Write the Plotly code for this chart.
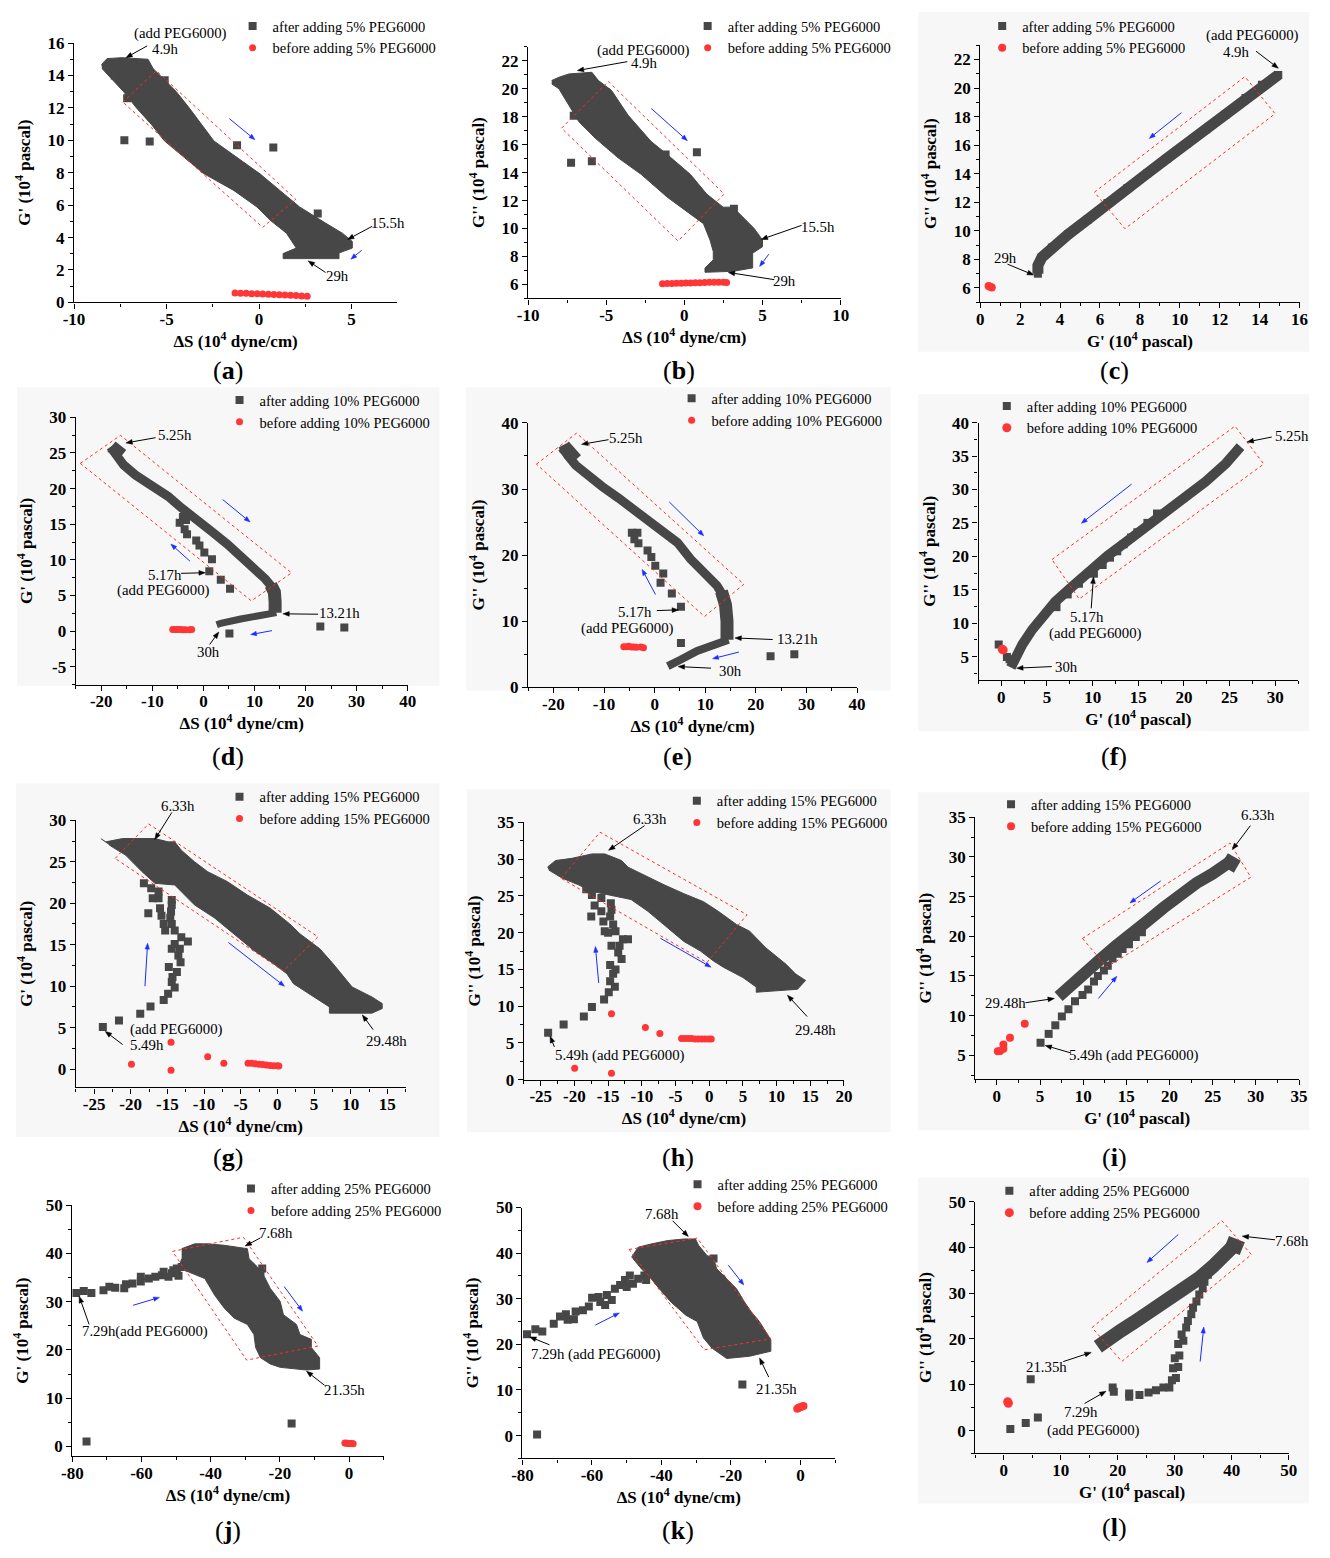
import math
import numpy as np
import plotly.graph_objects as go

W, H = 1330, 1558
FONT = "Liberation Serif"
DARK = "#474747"
RED = "#ff3636"
BLUE = "#1a2cff"
BG = "#f7f7f7"

DS = "ΔS (10<sup>4</sup> dyne/cm)"
G1 = "G' (10<sup>4</sup> pascal)"
G2 = "G'' (10<sup>4</sup> pascal)"

# ---------------- panel (a): G' vs dS, 5% ----------------
a_band_x = [-8.52, -8.22, -7.42, -6.0, -5.73, -5.28, -4.48, -3.77, -2.44, -1.19, 0.05, 1.12, 2.19, 3.61, 4.5, 5.04, 5.04,
            4.32, 4.32, 1.30, 1.30, 2.01, 1.48, 0.59, -0.12, -1.37, -2.97, -4.04, -5.11, -5.82, -6.62, -7.33, -8.13, -8.49]
a_band_y = [14.67, 15.04, 15.10, 15.0, 14.43, 13.92, 13.01, 11.99, 9.96, 8.94, 7.93, 6.91, 5.89, 4.88, 4.27, 3.76, 3.35,
            3.05, 2.70, 2.70, 3.01, 3.35, 4.27, 5.08, 5.89, 6.91, 7.93, 8.94, 9.96, 10.98, 11.99, 13.01, 14.02, 14.43]
a_pts_x = [-7.28, -5.91, -1.19, 0.77, 3.17, -5.1, -7.8, -7.13]
a_pts_y = [10.0, 9.92, 9.7, 9.55, 5.49, 13.7, 14.0, 12.6]
a_red_x = [-1.3, -1.0, -0.7, -0.4, -0.1, 0.2, 0.5, 0.8, 1.1, 1.4, 1.7, 2.0, 2.3, 2.6]
a_red_y = [0.58, 0.57, 0.56, 0.54, 0.53, 0.52, 0.50, 0.49, 0.47, 0.46, 0.44, 0.42, 0.40, 0.38]
a_box_x = [-7.37, -5.55, 1.98, 0.20]
a_box_y = [12.36, 14.29, 6.36, 4.63]

# ---------------- panel (b): G'' vs dS, 5% ----------------
b_band_x = [-8.49, -8.03, -7.39, -5.92, -5.5, -4.66, -3.61, -2.14, -1.09, 0.38, 1.43, 2.48, 3.11, 3.74, 4.47, 5.0, 5.0,
            4.37, 4.37, 3.11, 1.32, 1.32, 1.85, 1.85, 1.64, 1.22, 0.38, -1.09, -2.77, -4.24, -5.71, -6.76, -7.39, -8.03, -8.49]
b_band_y = [20.59, 20.82, 21.06, 21.18, 20.59, 19.88, 18.12, 16.24, 15.29, 13.88, 12.47, 11.53, 11.53, 10.82, 10.0, 9.18, 8.7,
            8.24, 7.18, 6.94, 6.87, 7.18, 7.76, 8.35, 9.18, 10.35, 11.06, 12.24, 13.88, 15.06, 16.47, 17.65, 18.82, 20.0, 20.35]
b_pts_x = [-7.25, -5.92, 0.8, -1.2, 3.17, -5.04, -7.08, -5.5]
b_pts_y = [14.71, 14.82, 15.46, 15.29, 11.41, 19.76, 18.07, 19.9]
b_red_x = [-1.4, -1.1, -0.8, -0.5, -0.2, 0.1, 0.4, 0.7, 1.0, 1.3, 1.6, 1.9, 2.2, 2.5, 2.7]
b_red_y = [6.05, 6.06, 6.07, 6.08, 6.09, 6.1, 6.11, 6.12, 6.13, 6.14, 6.15, 6.16, 6.16, 6.15, 6.14]
b_box_x = [-7.86, -4.87, 2.55, -0.40]
b_box_y = [17.18, 20.52, 12.47, 9.11]

# ---------------- panel (c): G'' vs G', 5% ----------------
c_line_x = [2.89, 2.89, 3.09, 3.59, 4.41, 5.39, 6.38, 7.37, 8.36, 9.34, 10.33, 11.32, 12.3, 13.29, 14.11, 14.93]
c_line_y = [6.99, 7.57, 8.14, 8.83, 9.75, 10.79, 11.94, 12.98, 14.01, 15.05, 16.08, 17.12, 18.15, 19.31, 20.23, 20.92]
c_red_x = [0.42, 0.5, 0.58]
c_red_y = [6.12, 6.08, 6.03]
c_box_x = [5.72, 13.26, 14.77, 7.25]
c_box_y = [12.7, 20.8, 18.2, 10.14]

# ---------------- panel (d): G' vs dS, 10% ----------------
d_line_x = [-18.2, -17.2, -15.6, -13.3, -10.1, -6.9, -4.3, -1.7, 1.5, 4.7, 7.3, 9.9, 12.1, 13.7]
d_line_y = [25.84, 24.69, 23.3, 21.9, 20.5, 18.9, 17.3, 15.7, 14.05, 12.2, 10.6, 8.97, 7.35, 5.96]
d_top_x = [-18.0, -15.9]
d_top_y = [25.9, 24.7]
d_vert_x = [13.2, 13.9, 14.05, 14.05]
d_vert_y = [6.5, 5.5, 4.11, 2.6]
d_low_x = [14.3, 11.1, 7.3, 3.4, 2.6]
d_low_y = [2.6, 2.27, 1.71, 1.11, 0.9]
d_pts_x = [-4.64, -3.67, -3.2, -1.4, -0.77, 0.19, 1.68, 1.16, 3.41, 5.22, 22.9, 27.6, 5.1, -4.0, -3.4]
d_pts_y = [15.2, 14.3, 13.6, 12.7, 12.0, 11.05, 10.1, 8.41, 7.2, 5.96, 0.65, 0.5, -0.32, 16.0, 15.6]
d_red_x = [-6.0, -5.5, -5.0, -4.5, -4.0, -3.5, -2.7, -2.3]
d_red_y = [0.25, 0.25, 0.22, 0.22, 0.2, 0.2, 0.2, 0.22]
d_box_x = [-24.1, -16.24, 17.27, 9.41]
d_box_y = [23.53, 27.46, 8.18, 4.25]

# ---------------- panel (e): G'' vs dS, 10% ----------------
e_line_x = [-18.2, -17.2, -15.6, -13.0, -10.4, -7.1, -4.5, -1.95, 1.3, 4.5, 7.1, 9.7, 12.3, 13.6]
e_line_y = [36.6, 35.1, 33.6, 31.9, 30.4, 28.6, 27.1, 25.4, 23.7, 21.9, 19.4, 17.4, 15.4, 13.8]
e_top_x = [-18.0, -15.6]
e_top_y = [36.5, 34.4]
e_vert_x = [13.2, 14.0, 14.3, 14.3]
e_vert_y = [14.5, 12.5, 10.0, 7.2]
e_low_x = [14.6, 11.7, 8.4, 5.2, 3.2, 2.6]
e_low_y = [7.2, 6.5, 5.5, 4.2, 3.5, 3.2]
e_pts_x = [-4.5, -4.0, -3.2, -1.4, -0.65, 0.13, 1.7, 1.17, 3.4, 5.2, 5.2, 22.9, 27.6, -3.4]
e_pts_y = [23.4, 22.4, 21.8, 20.7, 19.7, 18.4, 17.2, 15.8, 14.2, 12.2, 6.7, 4.7, 5.0, 23.4]
e_red_x = [-6.1, -5.6, -5.1, -4.6, -4.1, -3.6, -2.7, -2.2]
e_red_y = [6.15, 6.15, 6.2, 6.1, 6.1, 6.05, 6.1, 6.0]
e_box_x = [-23.35, -15.43, 17.64, 9.86]
e_box_y = [33.76, 38.45, 15.59, 10.71]

# ---------------- panel (f): G'' vs G', 10% ----------------
f_line_x = [1.04, 1.4, 2.3, 3.38, 4.46, 5.9, 7.7, 9.5, 11.65, 13.8, 16.0, 18.1, 20.3, 22.4, 24.6, 26.2]
f_line_y = [3.38, 4.6, 6.8, 9.04, 11.0, 13.2, 15.4, 17.65, 20.1, 22.3, 24.5, 26.8, 29.0, 31.2, 33.9, 36.4]
f_pts_x = [10.14, 11.1, 11.9, 12.7, 13.4, 14.2, 14.9, 16.0, 17.05, 8.5, 7.27, 6.04, -0.29, 0.61, 0.9]
f_pts_y = [17.4, 18.7, 19.8, 20.75, 21.8, 22.8, 23.6, 25.0, 26.4, 15.9, 14.3, 12.4, 6.8, 4.95, 4.6]
f_red_x = [0.1, 0.2]
f_red_y = [6.1, 6.0]
f_box_x = [5.54, 25.6, 28.74, 8.53]
f_box_y = [19.52, 39.47, 33.8, 13.62]

# ---------------- panel (g): G' vs dS, 15% ----------------
g_band_x = [-24.06, -23.4, -21.1, -18.45, -16.7, -14.9, -14.0, -13.1, -11.3, -9.5, -6.8, -4.1, -0.96, 1.7, 3.1, 5.8, 7.6,
            10.2, 12.9, 14.3, 14.3, 12.9, 7.1, 7.1, 4.4, 2.2, 1.3, -0.5, -3.2, -5.9, -8.6, -11.3, -14.0, -16.7, -18.45,
            -20.7, -22.9]
g_band_y = [27.78, 27.4, 27.8, 27.8, 27.8, 27.4, 27.4, 26.4, 25.0, 23.8, 22.6, 21.0, 19.4, 17.5, 16.3, 14.5, 12.7,
            9.9, 8.7, 7.9, 7.3, 6.75, 6.75, 7.5, 9.1, 10.3, 11.5, 12.7, 14.3, 16.3, 18.25, 19.8, 22.2, 22.4, 23.8,
            25.8, 27.0]
g_pts_x = [-23.8, -21.6, -18.7, -17.3, -15.5, -14.9, -14.0, -14.4, -14.3, -13.7, -14.8, -13.2, -13.5, -13.3, -14.4,
           -12.2, -13.1, -14.0, -14.0, -14.4, -14.6, -14.5, -14.4, -14.4, -15.3, -15.5, -15.8, -16.0, -16.2, -16.2,
           -17.6, -17.0, -17.2, -18.2]
g_pts_y = [5.08, 5.87, 6.67, 7.54, 8.33, 9.1, 9.84, 10.5, 11.1, 11.7, 12.3, 12.9, 13.7, 14.5, 14.5, 15.4, 15.9, 15.1,
           16.7, 17.5, 18.25, 19.0, 19.8, 20.4, 16.7, 17.5, 18.5, 19.4, 20.6, 21.4, 18.8, 20.6, 21.8, 22.4]
g_red_x = [-19.9, -14.5, -14.5, -9.5, -7.3, -4.0, -3.5, -3.0, -2.5, -2.0, -1.5, -1.0, -0.5, 0.0, 0.2]
g_red_y = [0.6, 3.25, -0.12, 1.5, 0.71, 0.72, 0.7, 0.65, 0.6, 0.55, 0.5, 0.45, 0.42, 0.4, 0.38]
g_box_x = [-22.13, -17.56, 5.54, 0.83]
g_box_y = [25.4, 29.56, 15.95, 11.83]

# ---------------- panel (h): G'' vs dS, 15% ----------------
h_band_x = [-24.0, -22.8, -20.35, -17.4, -15.5, -14.0, -13.0, -12.05, -9.6, -6.7, -3.76, -0.83, 1.34, 4.05, 6.0, 8.44,
            11.4, 12.8, 14.3, 13.1, 6.98, 6.98, 5.0, 2.1, 0.63, -1.3, -3.76, -6.7, -9.1, -11.6, -14.5, -17.4, -19.4,
            -21.8, -23.8]
h_band_y = [28.9, 29.8, 30.1, 30.7, 30.7, 30.1, 29.8, 28.9, 27.8, 26.5, 25.3, 24.2, 22.9, 21.1, 20.2, 17.9,
            15.7, 14.4, 13.5, 12.3, 11.9, 12.6, 13.9, 15.3, 16.15, 17.5, 18.8, 21.1, 22.9, 24.5, 25.1, 25.6, 26.5,
            27.4, 28.5]
h_pts_x = [-23.9, -21.6, -18.6, -17.4, -15.6, -14.9, -14.7, -14.0, -14.25, -13.9, -14.7, -13.0, -13.5, -13.3, -12.8,
           -12.05, -14.5, -13.9, -15.0, -14.25, -14.7, -14.5, -14.6, -15.5, -15.7, -16.0, -16.0, -17.5, -17.0, -17.4,
           -18.25]
h_pts_y = [6.4, 7.5, 8.6, 9.9, 10.9, 11.9, 13.4, 12.65, 14.4, 15.0, 15.6, 16.4, 17.3, 18.2, 19.1, 19.1, 18.2, 20.2,
           20.0, 21.1, 22.2, 23.1, 24.0, 20.2, 21.5, 22.9, 24.7, 22.2, 23.7, 25.1, 25.9]
h_red_x = [-19.96, -14.5, -14.5, -9.47, -7.32, -4.1, -3.6, -3.1, -2.6, -2.1, -1.6, -1.1, -0.6, -0.1, 0.3]
h_red_y = [1.57, 0.9, 8.97, 7.09, 6.28, 5.6, 5.6, 5.6, 5.6, 5.55, 5.55, 5.55, 5.55, 5.55, 5.55]
h_box_x = [-21.96, -16.2, 5.61, -0.34]
h_box_y = [27.37, 33.65, 22.43, 15.93]

# ---------------- panel (i): G'' vs G', 15% ----------------
i_line_x = [7.15, 7.9, 9.24, 10.6, 12.1, 13.8, 15.5, 17.4, 19.3, 21.2, 23.1, 25.0, 26.5, 27.4]
i_line_y = [12.4, 13.2, 14.5, 15.7, 17.2, 18.8, 20.5, 21.9, 23.6, 25.2, 26.7, 27.9, 29.2, 29.7]
i_top_x = [26.7, 27.5]
i_top_y = [28.5, 30.0]
i_pts_x = [5.06, 6.0, 6.77, 7.53, 8.29, 9.05, 9.92, 10.57, 11.25, 11.7, 12.4, 12.85, 13.4, 14.0, 14.56, 15.3, 16.1, 16.8]
i_pts_y = [6.58, 7.7, 8.78, 9.9, 10.8, 11.8, 12.6, 13.3, 14.3, 15.0, 15.7, 16.3, 17.2, 17.8, 18.4, 19.0, 19.9, 20.5]
i_red_x = [0.11, 0.38, 0.76, 0.76, 1.52, 3.23]
i_red_y = [5.5, 5.54, 5.83, 6.37, 7.2, 8.98]
i_box_x = [9.92, 27.0, 29.42, 12.73]
i_box_y = [19.73, 31.76, 27.45, 16.12]

# ---------------- panel (j): G' vs dS, 25% ----------------
j_band_x = [-48.4, -44.6, -40.8, -36.1, -29.4, -28.9, -27.0, -24.7, -22.8, -19.9, -18.97, -15.2, -14.2, -10.9, -10.9,
            -8.5, -8.5, -12.3, -19.9, -22.8, -25.6, -27.0, -27.5, -29.4, -33.2, -36.1, -38.9, -41.7, -46.5, -49.3, -48.4]
j_band_y = [41.0, 42.0, 42.0, 41.7, 41.0, 38.9, 37.6, 35.5, 32.8, 30.05, 27.3, 25.3, 23.2, 22.2, 20.5,
            18.4, 16.05, 15.85, 16.4, 17.1, 18.4, 20.5, 23.2, 25.3, 26.6, 28.7, 31.4, 34.8, 36.2, 36.9, 38.9]
j_pts_x = [-78.9, -76.7, -74.5, -71.0, -69.3, -67.6, -65.0, -64.5, -62.6, -60.2, -60.2, -57.9, -56.0, -54.1, -53.6,
           -51.2, -50.8, -49.3, -49.8, -52.2, -48.4, -75.9, -16.6, -25.1, -25.6]
j_pts_y = [31.8, 32.2, 31.8, 32.4, 33.1, 32.9, 32.8, 33.6, 33.8, 34.2, 35.2, 34.8, 35.2, 35.5, 36.2,
           35.9, 36.5, 35.4, 36.9, 35.2, 37.2, 1.02, 4.78, 36.9, 36.2]
j_red_x = [-1.2, -0.8, -0.4, 0.0, 0.4, 0.8, 1.2]
j_red_y = [0.7, 0.68, 0.66, 0.64, 0.62, 0.6, 0.58]
j_box_x = [-51.04, -30.55, -9.01, -29.6]
j_box_y = [40.44, 43.37, 20.83, 17.9]

# ---------------- panel (k): G'' vs dS, 25% ----------------
k_band_x = [-48.6, -46.7, -43.0, -38.2, -33.5, -30.2, -29.3, -26.9, -25.0, -24.1, -21.2, -18.4, -16.1, -14.2, -11.8,
            -9.9, -8.5, -8.5, -14.6, -21.2, -25.5, -27.9, -29.7, -33.0, -37.3, -40.6, -43.0, -45.8, -48.2]
k_band_y = [39.1, 41.3, 42.0, 42.75, 43.1, 43.1, 41.7, 39.5, 38.8, 36.6, 34.4, 32.2, 29.3, 27.2, 25.0,
            22.8, 21.0, 18.5, 17.4, 16.9, 19.2, 21.4, 25.0, 26.4, 29.3, 32.2, 34.4, 36.6, 38.8]
k_pts_x = [-78.7, -76.3, -74.3, -71.0, -69.2, -67.5, -67.0, -65.2, -64.7, -62.6, -60.9, -59.96, -58.1, -57.6, -56.2,
           -55.7, -54.3, -53.4, -51.9, -50.5, -49.1, -50.0, -48.2, -46.7, -44.9, -44.4, -25.0, -75.8, -16.7]
k_pts_y = [22.2, 23.3, 22.8, 24.5, 26.1, 26.6, 25.4, 25.5, 27.2, 27.5, 28.3, 30.2, 30.4, 29.3, 28.6,
           30.8, 29.7, 32.2, 33.0, 34.1, 35.1, 32.6, 33.3, 34.4, 35.1, 34.1, 38.8, 0.22, 11.2]
k_red_x = [-0.9, -0.5, 0.0, 0.4, 0.9]
k_red_y = [5.9, 6.1, 6.2, 6.4, 6.5]
k_box_x = [-49.3, -29.7, -8.5, -27.7]
k_box_y = [40.8, 43.3, 21.2, 18.8]

# ---------------- panel (l): G'' vs G', 25% ----------------
l_line_x = [16.5, 18.2, 20.5, 22.8, 25.1, 27.4, 29.7, 32.0, 34.3, 36.65, 38.95, 40.7]
l_line_y = [18.3, 20.0, 21.8, 23.6, 25.4, 27.2, 29.0, 31.1, 33.3, 35.8, 38.3, 40.8]
l_top_x = [40.0, 40.9]
l_top_y = [39.0, 41.8]
l_pts_x = [19.1, 19.3, 22.0, 22.0, 23.8, 25.4, 26.7, 28.0, 29.05, 29.5, 30.2, 29.7, 30.6, 30.0, 30.8, 30.6, 31.5, 31.2,
           32.0, 32.3, 32.9, 33.2, 33.8, 34.3, 34.9, 35.2, 35.8, 36.4, 1.15, 3.85, 5.98, 4.72]
l_pts_y = [9.4, 8.5, 8.1, 7.4, 7.76, 8.3, 8.8, 9.4, 9.4, 11.0, 11.5, 13.6, 13.9, 15.8, 16.4, 18.9, 19.6, 21.0,
           22.5, 23.9, 25.4, 26.8, 28.2, 29.7, 31.1, 32.5, 34.0, 35.4, 0.36, 1.65, 2.87, 11.2]
l_red_x = [0.69, 0.8]
l_red_y = [6.32, 5.96]
l_box_x = [15.48, 38.26, 43.44, 20.71]
l_box_y = [22.49, 45.83, 38.43, 15.09]

# ---------------- figure layout description ----------------
PANELS = [
    dict(k="a", pct="5", xt=DS, yt=G1, dom=(64, 392, 34.5, 297), xr=(-10, 7.46), yr=(0, 16), xd=(5, 2.5), yd=(2, 1),
         bands=[("poly", a_band_x, a_band_y, 0)], pts=(a_pts_x, a_pts_y), red=(a_red_x, a_red_y), rs=7,
         box=(a_box_x, a_box_y), leg=(245, 18), lab=(220, 366), bg=None,
         texts=[("(add PEG6000)", 171.7, 25), ("4.9h", 156, 40.7), ("15.5h", 382.7, 216.7), ("29h", 331, 270.7)],
         arrows=[(138.3, 37.3, 116.7, 49.3), (366.7, 220, 341.7, 233.3), (319.3, 266.7, 301.7, 255)],
         blue=[(221.7, 111, 247.7, 132.3), (356, 244.3, 345, 253.3)]),
    dict(k="b", pct="5", xt=DS, yt=G2, dom=(525, 842.3, 38.3, 293), xr=(-10, 10), yr=(5, 23), xd=(5, 2.5), yd=(2, 1),
         bands=[("poly", b_band_x, b_band_y, 0)], pts=(b_pts_x, b_pts_y), red=(b_red_x, b_red_y), rs=7,
         box=(b_box_x, b_box_y), leg=(707, 18), lab=(678, 366), bg=None,
         texts=[("(add PEG6000)", 642.3, 41.7), ("4.9h", 642.3, 55), ("15.5h", 819.3, 220.7), ("29h", 785, 275.3)],
         arrows=[(625.7, 53.3, 575, 62.3), (802.7, 219, 761.7, 233.3), (775, 274, 728.3, 266.7)],
         blue=[(650, 100.7, 686.7, 133.3), (769.3, 248.3, 760, 260.7)]),
    dict(k="c", pct="5", xt=G1, yt=G2, dom=(984, 1308.3, 36.7, 296.7), xr=(0, 16), yr=(5, 23),
         xd=(2, 1), yd=(2, 1),
         bands=[("line", c_line_x, c_line_y, 11)], pts=(c_line_x, c_line_y), red=(c_red_x, c_red_y), rs=8,
         box=(c_box_x, c_box_y), leg=(1006, 18), lab=(1120, 366), bg=(921, 3, 1318, 347),
         texts=[("(add PEG6000)", 1260, 26.7), ("4.9h", 1244, 43.3), ("29h", 1010, 251.7)],
         arrows=[(1264, 42.7, 1286.7, 60), (1011.7, 258.3, 1038.3, 269.3)],
         blue=[(1188.3, 105, 1155.7, 131)]),
    dict(k="d", pct="10", xt=DS, yt=G1, dom=(65.7, 402.7, 413.3, 684), xr=(-25, 40), yr=(-7.5, 30), xd=(10, 5),
         yd=(5, 2.5),
         bands=[("line", d_line_x, d_line_y, 9), ("line", d_top_x, d_top_y, 13), ("line", d_vert_x, d_vert_y, 13),
                ("line", d_low_x, d_low_y, 7)],
         pts=(d_pts_x, d_pts_y), red=(d_red_x, d_red_y), rs=7,
         box=(d_box_x, d_box_y), leg=(231.7, 396.7), lab=(220, 757), bg=(6, 383, 435, 685),
         texts=[("5.25h", 166, 431.7), ("5.17h", 156, 573.3), ("(add PEG6000)", 155, 588.3), ("13.21h", 333.3, 611),
                ("30h", 201, 650.7)],
         arrows=[(146.7, 434, 116.7, 439.3), (172.7, 571.3, 197.3, 570.7), (311.7, 612.7, 276, 612.3),
                 (201.7, 643.3, 211, 630.7)],
         blue=[(215, 496.7, 242.7, 519.3), (181.7, 559, 162.3, 541.7), (265, 629.3, 243.3, 633.3)]),
    dict(k="e", pct="10", xt=DS, yt=G2, dom=(525, 859, 419, 686.7), xr=(-25, 40), yr=(0, 40), xd=(10, 5), yd=(10, 5),
         bands=[("line", e_line_x, e_line_y, 9), ("line", e_top_x, e_top_y, 14), ("line", e_vert_x, e_vert_y, 13),
                ("line", e_low_x, e_low_y, 8)],
         pts=(e_pts_x, e_pts_y), red=(e_red_x, e_red_y), rs=7,
         box=(e_box_x, e_box_y), leg=(690.7, 395), lab=(677, 757), bg=(462, 383, 893, 690),
         texts=[("5.25h", 624, 434.3), ("5.17h", 634, 610), ("(add PEG6000)", 626, 626.7), ("13.21h", 799, 637.3),
                ("30h", 730.7, 670)],
         arrows=[(606.7, 436, 579.3, 440.7), (655.7, 609, 677.7, 608.3), (773.3, 638.3, 735, 636.7),
                 (710.7, 667.3, 677.3, 665.7)],
         blue=[(668.3, 499, 703.3, 533.3), (654.3, 592.7, 640.7, 567.3), (739, 651, 712.3, 657.7)]),
    dict(k="f", pct="10", xt=G1, yt=G2, dom=(982.3, 1306.7, 418.7, 679.3), xr=(-2.5, 32.5), yr=(1.5, 40), xd=(5, 2.5),
         yd=(5, 2.5),
         bands=[("line", f_line_x, f_line_y, 10)], pts=(f_pts_x, f_pts_y), red=(f_red_x, f_red_y), rs=9,
         box=(f_box_x, f_box_y), leg=(1010.7, 402.7), lab=(1120, 757), bg=(921, 390, 1318, 731),
         texts=[("5.25h", 1301, 432.3), ("5.17h", 1092.7, 615), ("(add PEG6000)", 1100.7, 632.3), ("30h", 1071.7, 666)],
         arrows=[(1280, 433.3, 1255, 438.3), (1096.7, 606.7, 1099, 575), (1056.7, 665.7, 1021, 667.3)],
         blue=[(1137.7, 481, 1086.7, 520.7)]),
    dict(k="g", pct="15", xt=DS, yt=G1, dom=(65.7, 400.7, 821.3, 1091.7), xr=(-27.5, 17.5), yr=(-2.2, 30),
         xd=(5, 2.5), yd=(5, 2.5),
         bands=[("poly", g_band_x, g_band_y, 0)], pts=(g_pts_x, g_pts_y), red=(g_red_x, g_red_y), rs=7,
         box=(g_box_x, g_box_y), leg=(231.7, 798.3), lab=(220, 1163), bg=(5, 784, 435, 1142),
         texts=[("6.33h", 170, 806.7), ("(add PEG6000)", 167.7, 1033.3), ("5.49h", 138.3, 1048.3),
                ("29.48h", 381.7, 1044.3)],
         arrows=[(163.3, 813.3, 146, 840.7), (113.3, 1048.3, 95.7, 1035), (367.7, 1033.3, 356.7, 1018.3)],
         blue=[(136, 989.3, 138.7, 945.7), (220.7, 945, 277.7, 989.3)]),
    dict(k="h", pct="15", xt=DS, yt=G2, dom=(520.7, 845.7, 823.3, 1084), xr=(-27.5, 20), yr=(0, 35), xd=(5, 2.5),
         yd=(5, 2.5),
         bands=[("poly", h_band_x, h_band_y, 0)], pts=(h_pts_x, h_pts_y), red=(h_red_x, h_red_y), rs=7,
         box=(h_box_x, h_box_y), leg=(696, 802.3), lab=(677, 1163), bg=(463, 790, 893, 1137),
         texts=[("6.33h", 648.3, 820), ("29.48h", 816.7, 1033.3), ("5.49h (add PEG6000)", 618.3, 1059)],
         arrows=[(643.3, 826.7, 606.7, 851.7), (808.3, 1020, 788.3, 998.3), (551.7, 1050.7, 547.3, 1040)],
         blue=[(596.7, 986, 593.3, 949), (659.3, 940.7, 710.7, 970)]),
    dict(k="i", pct="15", xt=G1, yt=G2, dom=(979, 1307.7, 818.3, 1083.3), xr=(-2.5, 35), yr=(2, 35), xd=(5, 2.5),
         yd=(5, 2.5),
         bands=[("line", i_line_x, i_line_y, 12), ("line", i_top_x, i_top_y, 15)], pts=(i_pts_x, i_pts_y),
         red=(i_red_x, i_red_y), rs=8,
         box=(i_box_x, i_box_y), leg=(1015, 806), lab=(1120, 1163), bg=(921, 793, 1318, 1135),
         texts=[("6.33h", 1266, 816), ("29.48h", 1010, 1006.7), ("5.49h (add PEG6000)", 1140, 1059)],
         arrows=[(1258.3, 826.7, 1240, 851), (1030, 1006, 1059.3, 1001.7), (1075.7, 1056.7, 1050, 1049.3)],
         blue=[(1167.3, 882.7, 1136, 905), (1104, 1001.7, 1122.7, 979.3)]),
    dict(k="j", pct="25", xt=DS, yt=G1, dom=(62.3, 378.3, 1211, 1465), xr=(-80, 10), yr=(-2, 50), xd=(20, 10),
         yd=(10, 5),
         bands=[("poly", j_band_x, j_band_y, 0)], pts=(j_pts_x, j_pts_y), red=(j_red_x, j_red_y), rs=7,
         box=(j_box_x, j_box_y), leg=(243.3, 1195), lab=(220, 1540), bg=None,
         texts=[("7.68h", 269.3, 1239), ("7.29h(add PEG6000)", 135.7, 1339.3), ("21.35h", 339, 1397.7)],
         arrows=[(253.3, 1244, 237.7, 1252.3), (79.3, 1331.7, 69.3, 1303.3), (318.3, 1393.3, 300, 1379)],
         blue=[(124, 1312.3, 150.7, 1304.3), (277.3, 1293.3, 296, 1318.3)]),
    dict(k="k", pct="25", xt=DS, yt=G2, dom=(519.3, 836.7, 1213.3, 1467.3), xr=(-80, 10), yr=(-5, 50), xd=(20, 10),
         yd=(10, 5),
         bands=[("poly", k_band_x, k_band_y, 0)], pts=(k_pts_x, k_pts_y), red=(k_red_x, k_red_y), rs=8,
         box=(k_box_x, k_box_y), leg=(696.7, 1190.7), lab=(677, 1540), bg=None,
         texts=[("7.68h", 660.7, 1220), ("7.29h (add PEG6000)", 594, 1362.3), ("21.35h", 777.3, 1396.7)],
         arrows=[(671.7, 1226.7, 687.7, 1242.7), (546.7, 1352.3, 526.7, 1344.3), (769.3, 1385, 760, 1365.7)],
         blue=[(593.3, 1332.3, 617.7, 1320), (728.3, 1271.7, 744, 1291.7)]),
    dict(k="l", pct="25", xt=G1, yt=G2, dom=(979, 1297.3, 1207.3, 1462.3), xr=(-5, 50), yr=(-5, 50), xd=(10, 5),
         yd=(10, 5),
         bands=[("line", l_line_x, l_line_y, 14), ("line", l_top_x, l_top_y, 17)], pts=(l_pts_x, l_pts_y),
         red=(l_red_x, l_red_y), rs=9,
         box=(l_box_x, l_box_y), leg=(1013.3, 1197.3), lab=(1120, 1537), bg=(921, 1183, 1318, 1513),
         texts=[("7.68h", 1300.7, 1247.7), ("21.35h", 1051, 1375), ("7.29h", 1086.7, 1420),
                ("(add PEG6000)", 1099, 1439.3)],
         arrows=[(1283.3, 1246, 1250, 1242.3), (1068.3, 1369.3, 1096.7, 1360), (1090, 1411.7, 1111.7, 1399.3)],
         blue=[(1185, 1240.7, 1153.3, 1269), (1207.3, 1369.3, 1211, 1334.3)]),
]


def px(x):
    return x / W


def py(y):
    return 1 - y / H


def ticks(r, d):
    start = np.ceil(r[0] / d - 1e-9) * d
    vals = np.arange(start, r[1] + 1e-9, d)
    vals = [0.0 if abs(v) < 1e-9 else float(v) for v in vals]
    return vals, [f"{v:g}" for v in vals]


def arrow_shapes(tx, ty, hx, hy, color, hl=6.5, hw=2.4):
    dx, dy = hx - tx, hy - ty
    n = math.hypot(dx, dy)
    ux, uy = dx / n, dy / n
    bx, by = hx - ux * hl, hy - uy * hl
    p1 = (bx - uy * hw, by + ux * hw)
    p2 = (bx + uy * hw, by - ux * hw)
    line = dict(type="line", xref="paper", yref="paper", x0=px(tx), y0=py(ty), x1=px(bx), y1=py(by),
                line=dict(color=color, width=1), layer="above")
    head = dict(type="path", xref="paper", yref="paper",
                path=f"M {px(hx)},{py(hy)} L {px(p1[0])},{py(p1[1])} L {px(p2[0])},{py(p2[1])} Z",
                fillcolor=color, line=dict(color=color, width=0.5), layer="above")
    return [line, head]


fig = go.Figure()
annotations = []
shapes = []
layout = {}

tickfont = dict(family=FONT, size=17, color="black", weight="bold")
titlefont = dict(family=FONT, size=17, color="black", weight="bold")
txtfont = dict(family=FONT, size=14.8, color="black")

for idx, p in enumerate(PANELS, start=1):
    sx = "" if idx == 1 else str(idx)
    xa, ya = "x" + sx, "y" + sx
    lg = "legend" + sx
    x0, x1, ytop, ybot = p["dom"]

    if p["bg"] is not None:
        bx0, by0, bx1, by1 = p["bg"]
        shapes.append(dict(type="rect", xref="paper", yref="paper", x0=px(bx0), x1=px(bx1), y0=py(by1), y1=py(by0),
                           fillcolor=BG, line=dict(width=0), layer="below"))

    for kind, bxs, bys, wdt in p["bands"]:
        if kind == "poly":
            fig.add_trace(go.Scatter(x=bxs, y=bys, mode="lines", fill="toself", fillcolor=DARK,
                                     line=dict(color=DARK, width=1), xaxis=xa, yaxis=ya, showlegend=False,
                                     hoverinfo="skip", legend=lg))
        else:
            fig.add_trace(go.Scatter(x=bxs, y=bys, mode="lines", line=dict(color=DARK, width=wdt),
                                     xaxis=xa, yaxis=ya, showlegend=False, hoverinfo="skip", legend=lg))

    fig.add_trace(go.Scatter(x=p["pts"][0], y=p["pts"][1], mode="markers", name=f"after adding {p['pct']}% PEG6000",
                             marker=dict(symbol="square", size=8, color=DARK, line=dict(width=0)),
                             xaxis=xa, yaxis=ya, legend=lg))
    fig.add_trace(go.Scatter(x=p["red"][0], y=p["red"][1], mode="markers", name=f"before adding {p['pct']}% PEG6000",
                             marker=dict(symbol="circle", size=p["rs"], color=RED, line=dict(width=0)),
                             xaxis=xa, yaxis=ya, legend=lg))

    xv, xtxt = ticks(p["xr"], p["xd"][0])
    yv, ytxt = ticks(p["yr"], p["yd"][0])
    common = dict(showline=True, linecolor="black", linewidth=1.3, ticks="outside", ticklen=5, tickwidth=1.3,
                  tickcolor="black", showgrid=False, zeroline=False, tickfont=tickfont, tickmode="array")
    layout["xaxis" + sx] = dict(common, domain=[px(x0), px(x1)], range=list(p["xr"]), tickvals=xv, ticktext=xtxt,
                                anchor=ya, ticklabelstandoff=-4,
                                minor=dict(tickmode="linear", tick0=0, dtick=p["xd"][1], ticks="outside", ticklen=3,
                                           tickwidth=1.1, tickcolor="black"),
                                title=dict(text=p["xt"], font=titlefont, standoff=4))
    layout["yaxis" + sx] = dict(common, domain=[py(ybot), py(ytop)], range=list(p["yr"]), tickvals=yv, ticktext=ytxt,
                                anchor=xa,
                                minor=dict(tickmode="linear", tick0=0, dtick=p["yd"][1], ticks="outside", ticklen=3,
                                           tickwidth=1.1, tickcolor="black"),
                                title=dict(text=p["yt"], font=titlefont, standoff=12))

    mx, my = p["leg"]
    layout[lg] = dict(x=px(mx - 20), y=py(my - 17), xanchor="left", yanchor="top", bgcolor="rgba(0,0,0,0)",
                      borderwidth=0, font=dict(family=FONT, size=14.5, color="black"), traceorder="normal",
                      itemsizing="trace", tracegroupgap=0)

    bxs, bys = p["box"]
    path = "M " + " L ".join(f"{a},{b}" for a, b in zip(bxs, bys)) + " Z"
    shapes.append(dict(type="path", path=path, xref=xa, yref=ya, line=dict(color="#ff2a2a", width=1, dash="dot"),
                       layer="above"))

    for t, tx, ty in p["texts"]:
        annotations.append(dict(text=t, x=px(tx), y=py(ty), xref="paper", yref="paper", showarrow=False,
                                font=txtfont, xanchor="center", yanchor="middle"))
    for (tx, ty, hx, hy) in p["arrows"]:
        shapes.extend(arrow_shapes(tx, ty, hx, hy, "black"))
    for (tx, ty, hx, hy) in p["blue"]:
        shapes.extend(arrow_shapes(tx, ty, hx, hy, BLUE, hl=6, hw=2.2))
    lx, ly = p["lab"]
    annotations.append(dict(text=f"(<b>{p['k']}</b>)", x=px(lx), y=py(ly), xref="paper", yref="paper",
                            showarrow=False, font=dict(family=FONT, size=26, color="black"),
                            xanchor="center", yanchor="middle"))

fig.update_layout(width=W, height=H, margin=dict(l=0, r=0, t=0, b=0), paper_bgcolor="white",
                  plot_bgcolor="rgba(0,0,0,0)", annotations=annotations, shapes=shapes, **layout)

fig.write_html("out.html", config={"displayModeBar": False},
               post_script="document.body.style.margin='0';document.body.style.overflow='hidden';")
